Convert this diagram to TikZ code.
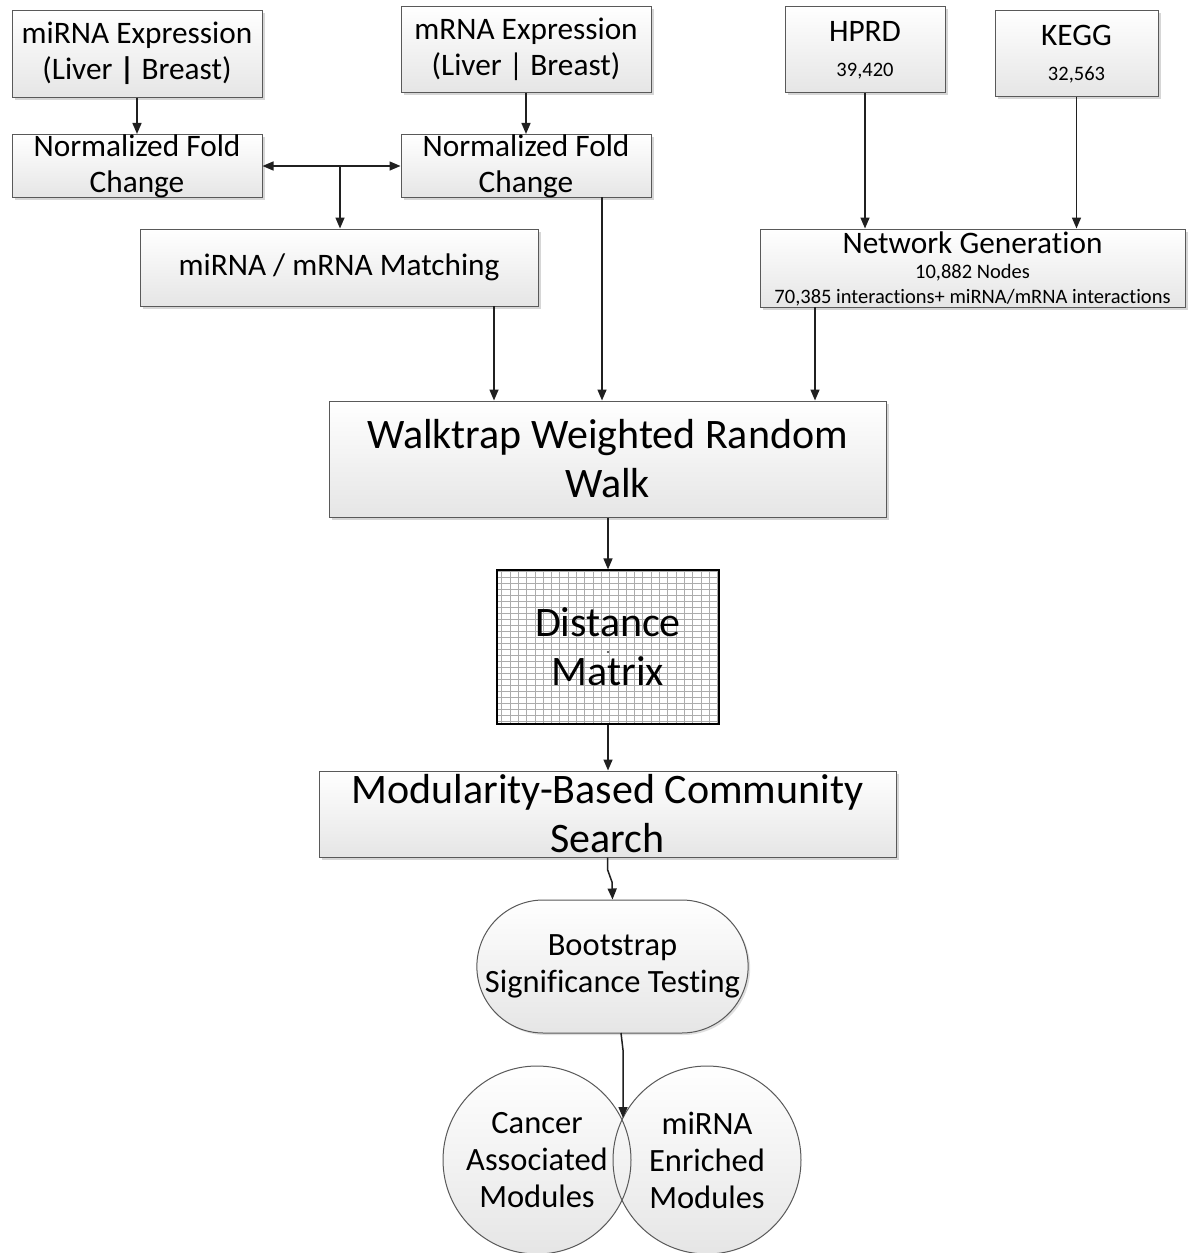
\documentclass[tikz,border=0pt]{standalone}
\usepackage{fontspec}
\setmainfont{Carlito}[Ligatures={NoCommon}, RawFeature={-liga;-clig}]
\usetikzlibrary{arrows.meta,shadows,shapes.misc}

\begin{document}
\begin{tikzpicture}[x=1pt,y=-1pt,
  box/.style={rectangle, draw=gray!70!black, line width=1pt,
    top color=white, bottom color=gray!20, inner sep=0pt, align=center,
    drop shadow={shadow xshift=2.5pt, shadow yshift=-2.5pt, fill=gray!70, opacity=0.45}},
  stadium/.style={rounded rectangle, draw=gray!70!black, line width=1pt,
    top color=white, bottom color=gray!20, inner sep=0pt, align=center,
    drop shadow={shadow xshift=2pt, shadow yshift=-2pt, fill=gray!70, opacity=0.35}},
  circfill/.style={circle, minimum size=188pt, inner sep=0pt,
    top color=white, bottom color=gray!20},
  ring/.style={draw=gray!70!black, line width=1pt},
  gridbox/.style={rectangle, draw=black, line width=1.2pt, fill=white, inner sep=0pt, align=center,
    path picture={\draw[gray!65, line width=1pt]
      (path picture bounding box.north west) grid[xstep=8.3pt, ystep=6pt] (path picture bounding box.south east);}},
  fmid/.style={font=\fontsize{31.3}{36}\selectfont, align=center},
  fround/.style={font=\fontsize{32.5}{37}\selectfont, align=center},
  fbig/.style={font=\fontsize{42}{49}\selectfont, align=center},
  fsmall/.style={font=\fontsize{20.5}{24}\selectfont},
  link/.style={draw=gray!25!black, line width=1.5pt},
  arr/.style={link, -{Triangle[length=11pt,width=9pt]}},
  darr/.style={link, {Triangle[length=11pt,width=9pt]}-{Triangle[length=11pt,width=9pt]}}
]
\fill[white] (0,0) rectangle (1188,1253);
\useasboundingbox (0,0) rectangle (1188,1253);

% expression inputs and fold change
\node[box, fmid, minimum width=250pt, minimum height=87pt] (mirexp) at (137,53.5) {miRNA Expression\\(Liver \textbf{|} Breast)};
\node[box, fmid, minimum width=250pt, minimum height=62pt] (nfcL) at (137,166) {Normalized Fold\\Change};
\node[box, fmid, minimum width=250pt, minimum height=86pt] (mrexp) at (526,49) {mRNA Expression\\(Liver | Breast)};
\node[box, fmid, minimum width=250pt, minimum height=62pt] (nfcR) at (526,166) {Normalized Fold\\Change};
\node[box, fmid, minimum width=398pt, minimum height=77pt] (match) at (339,267.5) {miRNA / mRNA Matching};

% interaction databases
\node[box, minimum width=160pt, minimum height=86pt] (hprd) at (865,49) {};
\node[fmid] (hprdT) at (865,31) {HPRD};
\node[fsmall] (hprdN) at (865,71) {39,420};
\node[box, minimum width=163pt, minimum height=86pt] (kegg) at (1076.5,53) {};
\node[fmid] (keggT) at (1076.5,35) {KEGG};
\node[fsmall] (keggN) at (1076.5,75) {32,563};
\node[box, minimum width=425pt, minimum height=78pt] (netgen) at (972.5,268) {};
\node[fmid] (netgenT) at (972.5,243) {Network Generation};
\node[fsmall] (netgenA) at (972.5,273) {10,882 Nodes};
\node[fsmall] (netgenB) at (972.5,298) {70,385 interactions+ miRNA/mRNA interactions};

% clustering pipeline
\node[box, fbig, minimum width=557pt, minimum height=116pt] (walk) at (607.5,459) {Walktrap Weighted Random\\Walk};
\node[gridbox, fbig, minimum width=222pt, minimum height=154pt] (dist) at (608,647) {Distance\\Matrix};
\fill[gray!40!black] (608,652) circle[radius=1.2];
\node[box, fbig, minimum width=577pt, minimum height=86pt] (mod) at (607.5,814) {Modularity-Based Community\\Search};
\node[stadium, fround, minimum width=265pt, minimum height=133pt] (boot) at (612.5,966.5) {Bootstrap\\Significance Testing};

% result modules
\node[circfill] (canc) at (537,1160) {};
\node[circfill] (mirn) at (707,1160) {};
\draw[ring] (canc.center) circle[radius=94];
\draw[ring] (mirn.center) circle[radius=94];
\node[fround] (cancT) at (537,1160) {Cancer\\Associated\\Modules};
\node[fround] (mirnT) at (707,1160) {miRNA\\Enriched\\Modules};

% connectors
\draw[arr] (mirexp.south) -- (nfcL.north);
\draw[arr] (mrexp.south) -- (nfcR.north);
\draw[darr] (nfcL.east) -- (nfcR.west);
\coordinate (split) at (340,166);
\draw[arr] (split) -- (match.north -| split);
\draw[arr] (hprd.south) -- (netgen.north -| hprd.south);
\draw[arr] (kegg.south) -- (netgen.north -| kegg.south);
\coordinate (m1) at (494,306);
\coordinate (m2) at (602,197);
\coordinate (m3) at (815,307);
\draw[arr] (m1) -- (walk.north -| m1);
\draw[arr] (m2) -- (walk.north -| m2);
\draw[arr] (m3) -- (walk.north -| m3);
\draw[arr] (walk.south -| dist.north) -- (dist.north);
\draw[arr] (dist.south) -- (mod.north -| dist.south);
\draw[arr] (mod.south) -- ++(0,12) -- (612,882) -- (boot.north);
\coordinate (b1) at (621,1033);
\coordinate (split2) at (623,1118);
\draw[arr] (b1) -- (623,1050) -- (split2);
\end{tikzpicture}
\end{document}
